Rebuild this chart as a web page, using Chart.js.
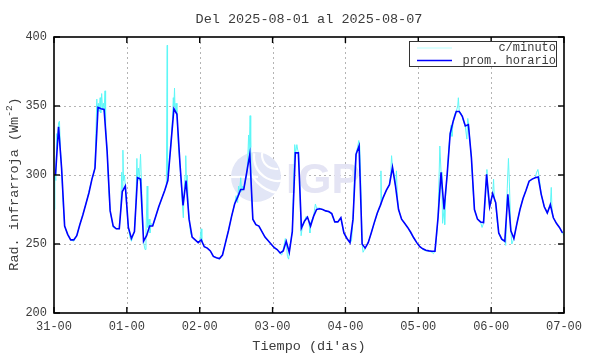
<!DOCTYPE html>
<html><head><meta charset="utf-8">
<script src="https://cdn.jsdelivr.net/npm/chart.js@4.4.0/dist/chart.umd.min.js"></script>
<style>html,body{margin:0;padding:0;background:#fff}#wrap{width:590px;height:354px;position:relative}</style>
</head><body><div id="wrap"><canvas id="c" width="590" height="354"></canvas></div>
<script>
const chartTitle = 'Del 2025-08-01 al 2025-08-07';
const xTitle = "Tiempo (di'as)";
const yTitleMain = 'Rad. infrarroja (Wm';
const yTitleSup = '-2';
const dayLabels = ['31-00','01-00','02-00','03-00','04-00','05-00','06-00','07-00'];
const yTicks = [200,250,300,350,400];
const seriesLabels = ['c/minuto','prom. horario'];

// hourly average, one value per hour (plotted at the middle of each hour)
const hourlyAvg = [
300,335,305,263,257,253,253,256,264,271,279,287,297,305,349,348,347.5,317,274,263,261,261,288,292,
262,254,259,298,297,252,256,263,263,270,277,283,289,296,322,348,344,308,278,296,268,255,253,251,
253,248,247,245,241,240,239.5,242,251,260,270,279,284,289.5,289.5,302,315,268,264,263,259,255,252.5,250,
247.5,246,243.5,245,252,244,259,316,316,261.5,266.5,269.5,263,270,275,275.5,275,274,273.5,272,266,266,269,258,
254,251,268,315,321,250,247,251,258,265.5,272.5,278,284,289,293,305.5,292,275,268,265,262,258.5,254.5,251,
248,246.5,245.5,245,244.8,244.8,269,302,275,300,330,339,346,346,342.5,335.5,336.5,312.5,275,268,266,265.5,300.5,277,
286.5,280,258,253.5,252,286,259.5,254,265,275,283,289,295.5,297,298,298.5,286,277,272.5,278.5,269,265,262,258
];

// per-minute record, read as [hour, value] pairs
const perMinute = [
[0.0,275],[0.3,300],[0.6,296],[0.9,330],[1.2,325],[1.5,338],[1.8,339],[2.1,320],[2.5,305],[3.0,280],[3.5,263],[4.5,257],[5.5,253],[6.5,252],[7.5,256],[8.5,264],[10.5,279],[12.5,297],[13.0,300],[13.5,306],[13.8,330],[14.1,355],[14.3,345],[14.6,352],[14.9,346],[15.2,356],[15.4,345],[15.7,359],[16.0,348],[16.3,352],[16.5,346],[16.8,361],[17.0,335],[17.5,318],[18.0,290],[18.5,274],[19.0,268],[19.5,262],[20.5,261],[21.5,261],[22.0,275],[22.3,302],[22.5,290],[22.7,318],[22.9,296],[23.2,300],[23.5,292],[24.0,275],[24.5,262],[25.0,255],[25.5,252],[26.0,256],[26.5,259],[27.0,280],[27.3,312],[27.5,298],[27.8,305],[28.1,296],[28.5,315],[28.8,295],[29.2,270],[29.6,250],[30.0,246],[30.3,258],[30.7,292],[30.9,262],[31.3,268],[31.6,258],[32.0,265],[32.5,263],[33.5,270],[35.5,283],[36.5,289],[37.0,292],[37.3,394],[37.4,300],[37.8,305],[38.5,322],[39.0,340],[39.3,356],[39.5,350],[39.7,363],[39.9,346],[40.2,352],[40.5,344],[41.0,320],[41.5,308],[42.0,290],[42.3,278],[42.6,269],[42.9,290],[43.2,300],[43.4,314],[43.6,296],[43.9,300],[44.2,280],[44.5,268],[45.0,258],[45.5,255],[46.5,253],[47.5,251],[48.0,252],[48.5,261],[48.7,252],[49.5,248],[50.5,247],[51.5,245],[52.5,241],[53.5,240],[54.5,239],[55.5,242],[56.5,251],[57.5,260],[58.5,270],[59.5,279],[60.0,285],[60.5,280],[60.8,292],[61.1,286],[61.5,298],[61.8,288],[62.2,292],[62.5,290],[63.0,295],[63.5,302],[63.8,310],[64.1,329],[64.3,315],[64.6,343],[64.8,320],[65.0,290],[65.5,268],[66.0,266],[66.5,264],[67.5,263],[68.5,259],[69.5,255],[70.5,252],[71.5,250],[72.5,247],[73.5,246],[74.5,243],[75.0,242],[75.5,246],[76.2,254],[76.5,251],[76.9,241],[77.3,239],[77.6,246],[78.5,259],[79.0,300],[79.3,322],[79.6,316],[80.0,322],[80.3,318],[80.6,316],[81.0,290],[81.4,256],[81.8,262],[82.5,266],[83.0,270],[83.5,269],[84.0,266],[84.3,258],[84.7,266],[85.5,270],[86.1,279],[86.5,276],[87.5,276],[88.5,275],[89.5,274],[90.5,273],[91.5,272],[92.5,266],[93.5,266],[94.5,269],[95.5,258],[96.5,254],[97.5,251],[98.0,252],[98.5,268],[99.0,300],[99.5,316],[100.0,320],[100.4,325],[100.7,321],[101.0,300],[101.5,250],[101.8,244],[102.5,247],[103.5,251],[104.5,258],[105.5,265],[106.5,272],[107.5,278],[107.7,303],[107.9,282],[108.5,284],[109.5,289],[110.5,293],[110.9,300],[111.2,314],[111.5,306],[112.0,300],[112.5,292],[112.8,303],[113.1,285],[113.5,275],[114.5,268],[115.5,265],[116.5,262],[117.5,258],[118.5,254],[119.5,251],[120.5,248],[121.5,246],[122.5,245],[123.5,245],[124.5,244],[125.0,243],[125.5,245],[126.0,255],[126.5,269],[127.1,321],[127.5,302],[127.8,290],[128.0,265],[128.5,275],[128.7,264],[129.0,285],[129.5,300],[130.0,318],[130.5,330],[130.8,336],[131.1,328],[131.5,339],[132.0,344],[132.5,346],[133.0,350],[133.2,356],[133.5,346],[134.0,345],[134.5,342],[135.0,338],[135.5,335],[136.0,326],[136.3,341],[136.6,336],[137.0,325],[137.5,312],[138.0,290],[138.5,275],[139.5,268],[140.5,266],[141.0,262],[141.5,265],[142.0,280],[142.5,300],[142.6,304],[143.0,285],[143.5,277],[144.0,282],[144.5,286],[144.8,297],[145.1,281],[145.5,280],[146.0,266],[146.5,258],[147.5,253],[148.5,252],[148.8,249],[149.3,290],[149.7,312],[150.0,295],[150.5,260],[150.8,250],[151.5,254],[152.5,265],[153.5,275],[154.5,283],[155.5,289],[156.5,295],[157.5,297],[158.5,298],[159.0,302],[159.4,304],[159.8,299],[160.5,286],[161.5,277],[162.0,275],[162.5,272],[163.0,276],[163.5,278],[163.8,291],[164.1,272],[164.5,269],[165.5,265],[166.5,262],[167.5,258],[168.0,256]
];

const FONT = '"Liberation Mono", "DejaVu Sans Mono", monospace';
const TXT = '#3c3c3c';
const CYAN = '#5ef7f7';
const BLUE = '#0000ff';

const decor = {
  id: 'decor',
  beforeDatasetsDraw(chart) {
    const {ctx, chartArea: a, scales: {x, y}} = chart;
    ctx.save();
    ctx.strokeStyle = '#b4b4b4'; ctx.lineWidth = 1; ctx.setLineDash([2, 3]);
    dayLabels.forEach((_, i) => {
      if (i === 0 || i === dayLabels.length - 1) return;
      const px = Math.round(x.getPixelForValue(i * 24)) + 0.5;
      ctx.beginPath(); ctx.moveTo(px, a.top); ctx.lineTo(px, a.bottom); ctx.stroke();
    });
    yTicks.forEach(v => {
      if (v === yTicks[0] || v === yTicks[yTicks.length - 1]) return;
      const py = Math.round(y.getPixelForValue(v)) + 0.5;
      ctx.beginPath(); ctx.moveTo(a.left, py); ctx.lineTo(a.right, py); ctx.stroke();
    });
    ctx.setLineDash([]);
    const cx = 256, cy = 177, r = 25;
    ctx.fillStyle = '#e2e6f6';
    ctx.beginPath(); ctx.arc(cx, cy, r, 0, Math.PI * 2); ctx.fill();
    ctx.strokeStyle = '#ffffff'; ctx.lineWidth = 2.2;
    [[cx + 20, cy - 22, 14], [cx + 22, cy - 20, 24], [cx + 26, cy - 18, 34]].forEach(([ax, ay, rr]) => {
      ctx.beginPath(); ctx.arc(ax, ay, rr, Math.PI * 0.45, Math.PI * 1.05); ctx.stroke();
    });
    ctx.beginPath(); ctx.moveTo(cx - r, cy); ctx.lineTo(cx + 2, cy); ctx.stroke();
    ctx.fillStyle = '#e4e4f4';
    ctx.font = 'bold 43px "Liberation Sans", Arial, sans-serif';
    ctx.textAlign = 'left'; ctx.textBaseline = 'alphabetic';
    ctx.fillText('IGP', 286, 193);
    ctx.restore();
  },
  afterDraw(chart) {
    const {ctx, chartArea: a, scales: {x, y}} = chart;
    ctx.save();
    ctx.strokeStyle = '#000'; ctx.lineWidth = 1.6;
    ctx.strokeRect(a.left, a.top, a.right - a.left, a.bottom - a.top);
    ctx.lineWidth = 1.4;
    dayLabels.forEach((_, i) => {
      const px = x.getPixelForValue(i * 24);
      ctx.beginPath(); ctx.moveTo(px, a.bottom); ctx.lineTo(px, a.bottom - 6); ctx.stroke();
      ctx.beginPath(); ctx.moveTo(px, a.top); ctx.lineTo(px, a.top + 6); ctx.stroke();
    });
    yTicks.forEach(v => {
      const py = y.getPixelForValue(v);
      ctx.beginPath(); ctx.moveTo(a.left, py); ctx.lineTo(a.left + 6, py); ctx.stroke();
      ctx.beginPath(); ctx.moveTo(a.right, py); ctx.lineTo(a.right - 6, py); ctx.stroke();
    });
    const midX = (a.left + a.right) / 2;
    ctx.fillStyle = TXT;
    ctx.textAlign = 'center'; ctx.textBaseline = 'middle';
    ctx.font = '13.5px ' + FONT;
    ctx.fillText(chartTitle, midX, 19);
    ctx.fillText(xTitle, midX, 346.5);
    ctx.save();
    ctx.translate(14, (a.top + a.bottom) / 2 + 9);
    ctx.rotate(-Math.PI / 2);
    ctx.font = '13.5px ' + FONT;
    const w1 = ctx.measureText(yTitleMain).width;
    ctx.font = '9.5px ' + FONT;
    const w2 = ctx.measureText(yTitleSup).width;
    ctx.font = '13.5px ' + FONT;
    const w3 = ctx.measureText(')').width;
    let sx = -(w1 + w2 + w3) / 2;
    ctx.textAlign = 'left';
    ctx.fillText(yTitleMain, sx, 0); sx += w1;
    ctx.font = '9.5px ' + FONT;
    ctx.fillText(yTitleSup, sx, -5); sx += w2;
    ctx.font = '13.5px ' + FONT;
    ctx.fillText(')', sx, 0);
    ctx.restore();
    ctx.fillStyle = '#fff';
    ctx.fillRect(409.5, 41.5, 147, 25);
    ctx.strokeStyle = '#333'; ctx.lineWidth = 1;
    ctx.strokeRect(409.5, 41.5, 147, 25);
    ctx.lineWidth = 1; ctx.strokeStyle = '#b8ffff';
    ctx.beginPath(); ctx.moveTo(417, 48); ctx.lineTo(452, 48); ctx.stroke();
    ctx.lineWidth = 1.6; ctx.strokeStyle = BLUE;
    ctx.beginPath(); ctx.moveTo(417, 60.5); ctx.lineTo(452, 60.5); ctx.stroke();
    ctx.fillStyle = TXT; ctx.textAlign = 'right'; ctx.textBaseline = 'middle';
    ctx.font = '12px ' + FONT;
    ctx.fillText(seriesLabels[0], 556, 48);
    ctx.fillText(seriesLabels[1], 556, 61);
    ctx.restore();
  }
};

new Chart(document.getElementById('c'), {
  type: 'line',
  data: {
    datasets: [
      {
        label: seriesLabels[1],
        data: hourlyAvg.map((v, i) => ({x: i + 0.5, y: v})),
        borderColor: BLUE, borderWidth: 1.6, pointRadius: 0, tension: 0, order: 0
      },
      {
        label: seriesLabels[0],
        data: perMinute.map(([t, v]) => ({x: t, y: v})),
        borderColor: CYAN, borderWidth: 1, pointRadius: 0, tension: 0, order: 1
      }
    ]
  },
  options: {
    responsive: false, animation: false,
    layout: {padding: {top: 37, right: 26, left: 0, bottom: 0}},
    plugins: {legend: {display: false}, tooltip: {enabled: false}, title: {display: false}},
    scales: {
      x: {
        type: 'linear', min: 0, max: 168,
        afterBuildTicks: s => { s.ticks = dayLabels.map((_, i) => ({value: i * 24})); },
        afterFit: s => { s.height = 41; },
        grid: {display: false, drawTicks: false},
        border: {display: false},
        ticks: {
          callback: v => dayLabels[Math.round(v / 24)],
          font: {family: FONT, size: 12}, color: TXT, padding: 7, maxRotation: 0, autoSkip: false
        }
      },
      y: {
        type: 'linear', min: 200, max: 400,
        afterBuildTicks: s => { s.ticks = yTicks.map(v => ({value: v})); },
        afterFit: s => { s.width = 54; },
        grid: {display: false, drawTicks: false},
        border: {display: false},
        ticks: {font: {family: FONT, size: 12}, color: TXT, padding: 7}
      }
    }
  },
  plugins: [decor]
});
</script>
</body></html>
